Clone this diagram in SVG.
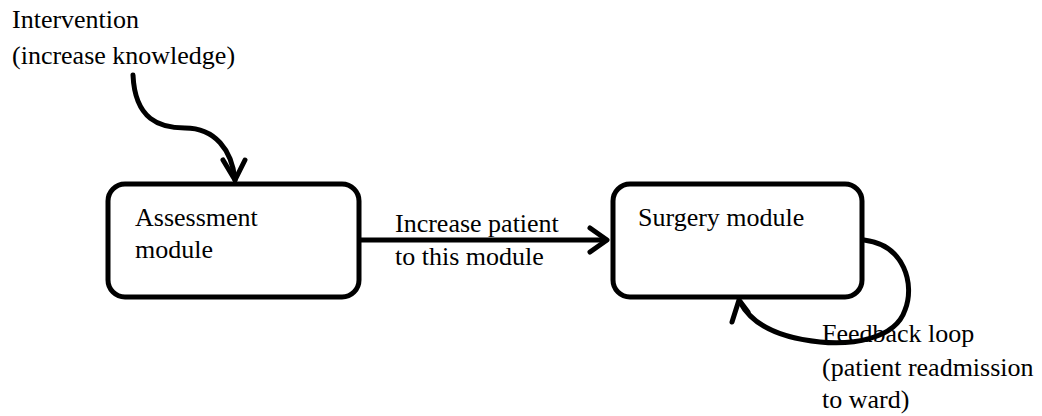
<svg xmlns="http://www.w3.org/2000/svg" width="1042" height="416" viewBox="0 0 1042 416">
<style>
text{font-family:"Liberation Serif","Times New Roman",serif;font-size:26px;fill:#000}
.box{fill:#fff;stroke:#000;stroke-width:5}
.conn{fill:none;stroke:#000;stroke-width:5;stroke-linecap:round;stroke-linejoin:round}
</style>
<rect width="1042" height="416" fill="#fff"/>
<g id="intervention-label">
<text x="12" y="28">Intervention</text>
<text x="12" y="64">(increase knowledge)</text>
</g>
<g id="assessment">
<rect class="box" x="108" y="184" width="251" height="113" rx="17"/>
<text x="135" y="226">Assessment</text>
<text x="135" y="258">module</text>
</g>
<g id="surgery">
<rect class="box" x="613" y="184" width="249" height="113" rx="17"/>
<text x="638" y="226">Surgery module</text>
</g>
<g id="connectors">
<path class="conn" d="M133,75 C135,120 160,128 185,128 C215,128 232,150 235,180"/>
<path class="conn" d="M223,160 L235,180 L245,160"/>
<path class="conn" d="M360,240 H606"/>
<path class="conn" d="M590,228 L607,240 L590,252"/>
<path class="conn" d="M864,240 C905,245 915,285 905,310 C895,340 850,345 820,342 C780,338 752,325 740,302"/>
<path class="conn" d="M732,322 L739,300 L748,312"/>
</g>
<g id="edge-label">
<text x="395" y="232">Increase patient</text>
<text x="395" y="265">to this module</text>
</g>
<g id="feedback-label">
<text x="822" y="342">Feedback loop</text>
<text x="822" y="376">(patient readmission</text>
<text x="822" y="408">to ward)</text>
</g>
</svg>
